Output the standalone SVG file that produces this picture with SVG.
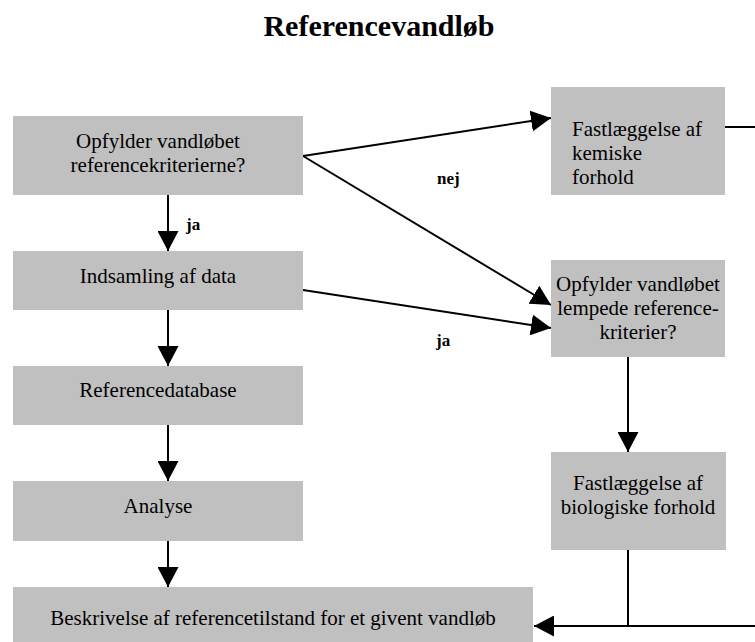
<svg xmlns="http://www.w3.org/2000/svg" width="755" height="642" viewBox="0 0 755 642">
<style>
.box{fill:#c0c0c0;}
.t{font-family:"Liberation Serif","Times New Roman",serif;font-size:21px;fill:#000;}
.c{text-anchor:middle;}
.lbl{font-family:"Liberation Serif","Times New Roman",serif;font-size:17px;font-weight:bold;fill:#000;}
.title{font-family:"Liberation Serif","Times New Roman",serif;font-size:30px;font-weight:bold;fill:#000;text-anchor:middle;}
.ln{stroke:#000;stroke-width:2;fill:none;}
.arr{marker-end:url(#ah);}
</style>
<defs>
<marker id="ah" markerUnits="userSpaceOnUse" markerWidth="20" markerHeight="21" refX="20" refY="10.5" orient="auto">
<path d="M0,0 L20,10.5 L0,21 Z" fill="#000"/>
</marker>
</defs>
<text class="title" x="379" y="36">Referencevandløb</text>

<g id="connectors">
<line class="ln arr" x1="168" y1="195" x2="168" y2="251"/>
<line class="ln arr" x1="168" y1="310" x2="168" y2="366"/>
<line class="ln arr" x1="168" y1="425" x2="168" y2="481"/>
<line class="ln arr" x1="168" y1="541" x2="168" y2="587"/>
<line class="ln arr" x1="303" y1="156" x2="551" y2="118"/>
<line class="ln arr" x1="303" y1="156" x2="551" y2="305"/>
<line class="ln arr" x1="303" y1="290" x2="551" y2="328"/>
<line class="ln arr" x1="628" y1="357" x2="628" y2="452"/>
<line class="ln" x1="725" y1="127" x2="755" y2="127"/>
<line class="ln" x1="628" y1="550" x2="628" y2="626"/>
<line class="ln arr" x1="755" y1="626" x2="534" y2="626"/>
<text class="lbl" x="186" y="230">ja</text>
<text class="lbl" x="437" y="184">nej</text>
<text class="lbl" x="436" y="346">ja</text>
</g>

<g id="n1">
<rect class="box" x="13" y="116" width="290" height="79"/>
<text class="t c" x="158" y="148">Opfylder vandløbet</text>
<text class="t c" x="158" y="172">referencekriterierne?</text>
</g>
<g id="n2">
<rect class="box" x="13" y="251" width="290" height="59"/>
<text class="t c" x="158" y="283">Indsamling af data</text>
</g>
<g id="n3">
<rect class="box" x="13" y="366" width="290" height="59"/>
<text class="t c" x="158" y="397">Referencedatabase</text>
</g>
<g id="n4">
<rect class="box" x="13" y="481" width="290" height="60"/>
<text class="t c" x="158" y="513">Analyse</text>
</g>
<g id="n5">
<rect class="box" x="13" y="587" width="520" height="60"/>
<text class="t c" x="273" y="625">Beskrivelse af referencetilstand for et givent vandløb</text>
</g>
<g id="n6">
<rect class="box" x="551" y="87" width="174" height="108"/>
<text class="t" x="572" y="136">Fastlæggelse af</text>
<text class="t" x="572" y="160">kemiske</text>
<text class="t" x="572" y="184">forhold</text>
</g>
<g id="n7">
<rect class="box" x="551" y="260" width="174" height="97"/>
<text class="t c" x="638" y="291">Opfylder vandløbet</text>
<text class="t c" x="638" y="315">lempede reference-</text>
<text class="t c" x="638" y="339">kriterier?</text>
</g>
<g id="n8">
<rect class="box" x="551" y="452" width="175" height="98"/>
<text class="t c" x="638" y="490">Fastlæggelse af</text>
<text class="t c" x="638" y="514">biologiske forhold</text>
</g>
</svg>
